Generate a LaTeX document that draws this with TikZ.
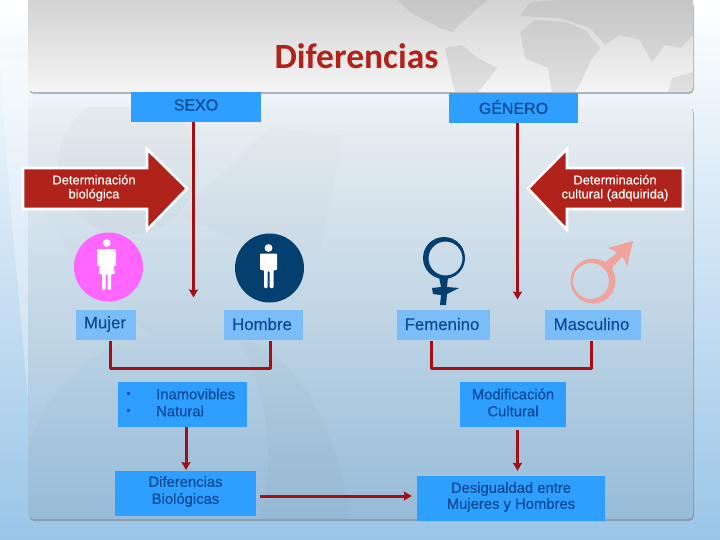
\documentclass[tikz,border=0pt]{standalone}
\usepackage{fontspec}
\setmainfont{Liberation Sans}
\newfontfamily\titlefont{Carlito}
\newfontfamily\heavy[FakeBold=0.25]{Liberation Sans}
\usetikzlibrary{arrows.meta,shadings}
\definecolor{boxblue}{HTML}{2E9EFF}
\definecolor{lblblue}{HTML}{7ABDF8}
\definecolor{txtblue}{HTML}{0C4A94}
\definecolor{conred}{HTML}{A30F14}
\definecolor{arrred}{HTML}{B0231A}
\definecolor{navy}{HTML}{03406F}
\definecolor{pinkc}{HTML}{FF66FF}
\definecolor{salmon}{HTML}{F0A29C}
\tikzset{
  x=1pt,y=-1pt,
  bluebox/.style={draw=none,fill=boxblue,text=txtblue,inner sep=0pt,align=center},
  lblbox/.style={draw=none,fill=lblblue,text=txtblue,inner sep=0pt,align=center},
  lbltext/.style={text=txtblue,inner sep=0pt,font=\heavy\fontsize{16.8}{19}\selectfont},
  boxtext/.style={text=txtblue,inner sep=0pt,align=center,font=\heavy\fontsize{14.8}{17}\selectfont},
  headtext/.style={text=txtblue,inner sep=0pt,font=\heavy\fontsize{16}{19}\selectfont},
  conn/.style={draw=conred,line width=3pt},
  conarrow/.style={conn,-{Stealth[length=8pt,width=9pt,inset=1pt]}},
  bigarrow/.style={fill=arrred,draw=white,line width=2.6pt,miter limit=6},
  arrtext/.style={text=white,align=center,font=\heavy\fontsize{12.9}{14}\selectfont,inner sep=0pt},
  mapland/.style={fill=black!40,opacity=.22},
}
\begin{document}
\begin{tikzpicture}
\useasboundingbox (0,0) rectangle (720,540);
% background
\shade[top color=white,middle color={rgb,255:red,214;green,230;blue,243},bottom color={rgb,255:red,154;green,197;blue,232}] (0,0) rectangle (720,540);
\fill[white,opacity=.3] (0,60) .. controls (8,200) and (20,300) .. (28,400) -- (28,60) -- cycle;
% panel shadows
\fill[black!45,opacity=.6,rounded corners=5pt] (29,2) rectangle (694,94);
\fill[black!50,opacity=.6,rounded corners=5pt] (29,108) rectangle (694,521);
% header panel
\shade[rounded corners=5pt,top color={rgb,255:red,208;green,208;blue,208},bottom color={rgb,255:red,245;green,245;blue,245}] (28,-8) rectangle (693,92);
% world map
\begin{scope}
\clip[rounded corners=5pt] (28,-8) rectangle (693,92);
\fill[mapland] (397,0) -- (410,12) -- (425,20) -- (440,28) -- (452,32) -- (462,22) -- (478,8) -- (488,0) -- cycle;
\fill[mapland] (445,48) -- (462,45) -- (478,58) -- (497,68) -- (488,80) -- (478,92) -- (455,92) -- (450,72) -- cycle;
\fill[mapland] (520,32) -- (535,20) -- (565,22) -- (585,30) -- (600,48) -- (590,62) -- (582,80) -- (575,92) -- (552,92) -- (548,68) -- (525,58) -- cycle;
\fill[mapland] (520,16) -- (530,2) -- (560,0) -- (693,0) -- (693,35) -- (680,48) -- (665,45) -- (652,62) -- (640,40) -- (620,35) -- (605,45) -- (590,28) -- (560,18) -- cycle;
\fill[mapland] (668,92) -- (672,78) -- (693,72) -- (693,92) -- cycle;
\end{scope}
% main panel
\shade[rounded corners=5pt,top color={rgb,255:red,234;green,239;blue,242},bottom color={rgb,255:red,150;green,187;blue,216}] (28,107) rectangle (693,519);
\begin{scope}
\clip[rounded corners=5pt] (28,107) rectangle (693,519);
\fill[black!40,opacity=.05] (128,165) circle (70);
\fill[black!40,opacity=.035] (270,127) -- (344,135) -- (320,250) .. controls (300,260) and (210,235) .. (180,215) -- cycle;
\fill[white,opacity=.07] (28,450) .. controls (40,400) and (80,350) .. (150,335) .. controls (100,300) and (60,240) .. (28,190) -- cycle;
\fill[black!60,opacity=.035] (240,340) .. controls (300,350) and (340,440) .. (350,519) -- (260,519) .. controls (280,450) and (260,380) .. (240,340) -- cycle;
\end{scope}
% title
\node[text=arrred,font=\titlefont\bfseries\fontsize{35.5}{40}\selectfont,inner sep=0pt] (title) at (356.5,56) {Diferencias};
% head boxes
\node[bluebox,minimum width=130pt,minimum height=30pt] (sexo) at (196,107) {};
\node[headtext] (sexot) at (196,105) {SEXO};
\node[bluebox,minimum width=129pt,minimum height=30pt] (genero) at (513.5,108) {};
\node[headtext] (generot) at (513.5,107) {GÉNERO};
% big arrows
\draw[bigarrow] (23,168) -- (147,168) -- (147,149) -- (187,188.5) -- (147,230) -- (147,209) -- (23,209) -- cycle;
\draw[bigarrow] (683,168) -- (567,168) -- (567,149) -- (528,188.5) -- (567,230) -- (567,209) -- (683,209) -- cycle;
\node[arrtext] (detbio) at (94,188) {Determinación\\biológica};
\node[arrtext] (detcul) at (615,188) {Determinación\\cultural (adquirida)};
% icons
\node[circle,fill=pinkc,minimum size=69pt,inner sep=0pt] (mcirc) at (108.5,267) {};
\fill[white] (106.7,243) circle (3.9);
\fill[white,rounded corners=1pt] (97,249) -- (116,249) -- (116,266) -- (113.5,266) -- (113,262) -- (115,274) -- (111,274) -- (111,290) -- (107.5,290) -- (107.5,274) -- (105.5,274) -- (105.5,290) -- (102,290) -- (102,274) -- (98.5,274) -- (100.5,262) -- (100,266) -- (97,266) -- cycle;
\node[circle,fill=navy,minimum size=69pt,inner sep=0pt] (hcirc) at (269.5,268) {};
\fill[white] (268.5,248) circle (3.9);
\fill[white,rounded corners=1pt] (260,253.5) -- (277,253.5) -- (277,270) -- (273.5,270) -- (273.5,288) -- (269.5,288) -- (269.5,271) -- (267.5,271) -- (267.5,288) -- (264,288) -- (264,270) -- (260,270) -- cycle;
% venus
\fill[navy,even odd rule] (444,258) circle (21) (445.5,258.5) circle (17);
\fill[navy] (439,277) -- (448,277) -- (447,287) -- (459,288) -- (447,294) -- (446,305) -- (440,305) -- (441,295) -- (433,294) -- (432,288) -- (441,287) -- cycle;
% mars
\fill[salmon,even odd rule] (593,281) circle (22.5) (591,281) circle (18);
\fill[salmon] (604,263) -- (617,253) .. controls (614,250) and (611,249) .. (608,248) -- (633,241) -- (627,267) .. controls (626,263) and (625,259) .. (622,257) -- (610,270) -- cycle;
% labels
\node[lblbox,minimum width=60pt,minimum height=30pt] (mujer) at (106,325) {};
\node[lblbox,minimum width=79pt,minimum height=30pt] (hombre) at (263.5,325) {};
\node[lblbox,minimum width=93pt,minimum height=30pt] (femenino) at (443.5,325) {};
\node[lblbox,minimum width=96pt,minimum height=30pt] (masculino) at (593,325) {};
\node[lbltext] (mujert) at (105,324) {Mujer};
\node[lbltext] (hombret) at (262,324) {Hombre};
\node[lbltext] (fement) at (442,324) {Femenino};
\node[lbltext] (mascut) at (591.5,324) {Masculino};
% boxes lower
\node[bluebox,minimum width=129pt,minimum height=45pt] (inam) at (182.5,404.5) {};
\node[boxtext,anchor=west] (inamt) at (156,394) {Inamovibles};
\node[boxtext,anchor=west] (natt) at (156,411) {Natural};
\node[text=txtblue,inner sep=0pt,font=\heavy\fontsize{11}{12}\selectfont] (b1) at (128.5,394.5) {•};
\node[text=txtblue,inner sep=0pt,font=\heavy\fontsize{11}{12}\selectfont] (b2) at (128.5,411.5) {•};
\node[bluebox,minimum width=141pt,minimum height=45pt] (dif) at (185.5,493.5) {};
\node[boxtext] (dift) at (185.5,491.5) {Diferencias\\Biológicas};
\node[bluebox,minimum width=106pt,minimum height=45pt] (mod) at (513,404.5) {};
\node[boxtext] (modt) at (513,402.5) {Modificación\\Cultural};
\node[bluebox,minimum width=188pt,minimum height=45pt] (des) at (511,498.5) {};
\node[boxtext,font=\heavy\fontsize{14.8}{16}\selectfont] (dest) at (511,497) {Desigualdad entre\\Mujeres y Hombres};
% connectors
\coordinate (endS) at (193.5,297.5);
\coordinate (endG) at (517.5,299.5);
\draw[conarrow] (sexo.south -| endS) -- (endS);
\draw[conarrow] (genero.south -| endG) -- (endG);
\coordinate (mb) at (110.5,341);
\coordinate (hb) at (270,341);
\coordinate (fb) at (431,341);
\coordinate (ob) at (591,341);
\draw[conn,line join=round] (mb) -- ++(0,27) -| (hb);
\draw[conn,line join=round] (fb) -- ++(0,27) -| (ob);
\coordinate (difin) at (186,470);
\draw[conarrow] (inam.south -| difin) -- (difin);
\coordinate (modout) at (517.5,430);
\draw[conarrow,shorten >=5pt] (modout) -- (des.north -| modout);
\coordinate (difout) at (260,496);
\draw[conarrow,shorten >=5pt] (difout) -- (des.west |- difout);
\end{tikzpicture}
\end{document}
